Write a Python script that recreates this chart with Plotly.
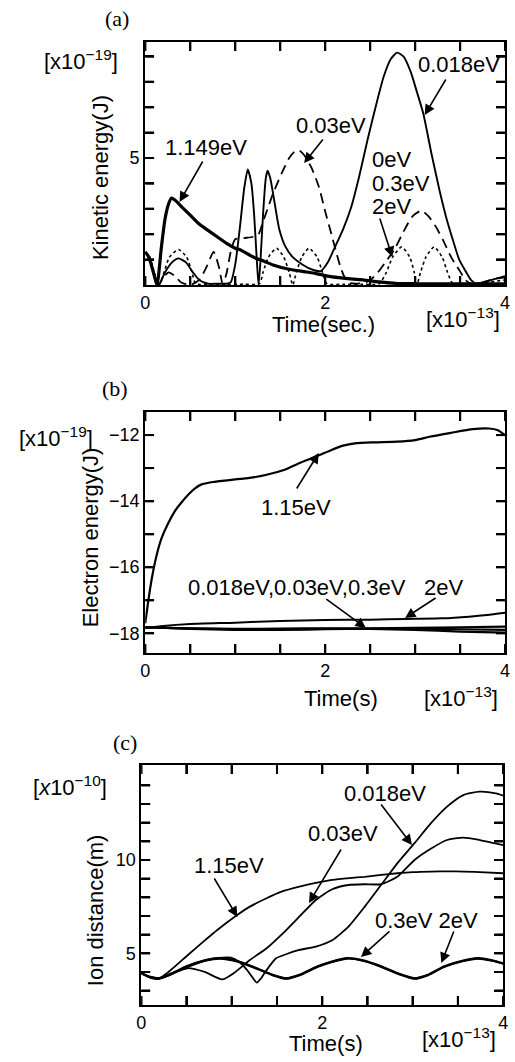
import plotly.graph_objects as go

# ---------------- data ----------------
# Panel (a): kinetic energy [x1e-19 J] vs time [x1e-13 s]
t_a_018 = [0, 0.05, 0.1, 0.15, 0.22, 0.3, 0.37, 0.45, 0.53, 0.6, 0.7, 0.8, 0.9, 0.95, 1.0, 1.05, 1.1, 1.14,
           1.18, 1.21, 1.24, 1.26, 1.28, 1.31, 1.34, 1.36, 1.39, 1.44, 1.49, 1.56, 1.64, 1.75, 1.86, 1.95,
           2.03, 2.11, 2.2, 2.29, 2.38, 2.47, 2.56, 2.65, 2.73, 2.8, 2.87, 2.95, 3.02, 3.09, 3.18, 3.27,
           3.35, 3.42, 3.49, 3.56, 3.62, 3.68, 3.75, 3.85, 3.95, 4.0]
ke_018 = [1.3, 1.0, 0.4, 0.0, 0.5, 0.9, 1.05, 0.9, 0.5, 0.2, 0.05, 0.05, 0.05, 0.1, 0.8, 2.2, 3.8, 4.55,
          4.0, 2.8, 1.0, 0.0, 0.9, 2.8, 4.2, 4.5, 4.2, 3.2, 2.2, 1.5, 1.1, 0.8, 0.6, 0.55,
          0.9, 1.5, 2.2, 3.07, 4.3, 5.7, 7.0, 8.2, 8.9, 9.15, 9.0, 8.4, 7.6, 6.76, 5.2, 3.74,
          2.6, 1.77, 1.0, 0.55, 0.2, 0.05, 0.1, 0.2, 0.3, 0.35]

t_a_03 = [0, 0.05, 0.1, 0.15, 0.2, 0.26, 0.33, 0.4, 0.5, 0.6, 0.68, 0.76, 0.82, 0.86, 0.9, 0.95, 1.0,
          1.1, 1.2, 1.26, 1.31, 1.36, 1.42, 1.48, 1.53, 1.6, 1.66, 1.71, 1.77, 1.85, 1.93, 2.0, 2.07,
          2.13, 2.18, 2.25, 2.35, 2.45, 2.52, 2.58, 2.67, 2.77, 2.87, 2.97, 3.07, 3.15, 3.23, 3.31,
          3.4, 3.49, 3.56, 3.62, 3.7, 3.8, 3.9, 4.0]
ke_03 = [1.3, 1.0, 0.4, 0.0, 0.3, 0.5, 0.35, 0.1, 0.0, 0.2, 0.7, 1.3, 0.7, 0.05, 0.4, 1.3, 1.8,
         1.85, 1.9, 2.0, 2.5, 3.0, 3.6, 4.1, 4.5, 5.0, 5.25, 5.3, 5.1, 4.6, 3.87, 2.9, 2.0,
         1.2, 0.6, 0.1, 0.05, 0.1, 0.25, 0.47, 0.9, 1.4, 2.1, 2.7, 2.93, 2.7, 2.3, 1.77,
         1.1, 0.59, 0.2, 0.05, 0.05, 0.15, 0.25, 0.3]

t_a_1149 = [0, 0.04, 0.09, 0.13, 0.18, 0.22, 0.26, 0.29, 0.33, 0.4, 0.5, 0.6, 0.69, 0.8, 0.9, 1.0,
            1.06, 1.2, 1.33, 1.42, 1.6, 1.78, 1.9, 2.06, 2.2, 2.42, 2.6, 2.8, 3.0, 3.5, 4.0]
ke_1149 = [1.3, 1.1, 0.5, 0.0, 1.5, 2.6, 3.2, 3.42, 3.35, 3.1, 2.75, 2.4, 2.17, 1.9, 1.65, 1.45,
           1.38, 1.1, 0.92, 0.79, 0.62, 0.52, 0.45, 0.33, 0.27, 0.2, 0.12, 0.06, 0.05, 0.05, 0.05]

t_a_0 = [0, 0.05, 0.1, 0.15, 0.2, 0.27, 0.37, 0.46, 0.52, 0.56, 0.7, 0.9, 1.1, 1.27, 1.31, 1.37, 1.46,
         1.54, 1.6, 1.64, 1.68, 1.74, 1.82, 1.91, 1.97, 2.02, 2.2, 2.4, 2.6, 2.68, 2.75, 2.85, 2.94,
         2.99, 3.02, 3.06, 3.12, 3.21, 3.3, 3.36, 3.42, 3.6, 3.8, 4.0]
ke_0 = [1.3, 1.1, 0.5, 0.0, 0.4, 1.1, 1.4, 1.1, 0.5, 0.05, 0.03, 0.03, 0.03, 0.05, 0.5, 1.1, 1.45,
        1.1, 0.5, 0.0, 0.5, 1.1, 1.45, 1.1, 0.5, 0.05, 0.03, 0.03, 0.05, 0.5, 1.1, 1.5, 1.1,
        0.5, 0.0, 0.5, 1.1, 1.5, 1.1, 0.5, 0.05, 0.03, 0.1, 0.2]

# Panel (b): electron energy [x1e-19 J]
t_b_115 = [0, 0.03, 0.076, 0.13, 0.185, 0.25, 0.33, 0.4, 0.48, 0.55, 0.62, 0.75, 0.98, 1.2, 1.35, 1.55,
           1.71, 1.9, 2.07, 2.2, 2.33, 2.55, 2.8, 3.0, 3.16, 3.4, 3.64, 3.82, 3.92, 4.0]
ee_115 = [-17.7, -17.1, -16.3, -15.6, -15.1, -14.7, -14.3, -14.05, -13.8, -13.62, -13.5, -13.42, -13.35,
          -13.28, -13.2, -13.05, -12.85, -12.65, -12.45, -12.32, -12.25, -12.22, -12.2, -12.15, -12.05,
          -11.93, -11.82, -11.8, -11.85, -12.0]
t_b_2 = [0, 0.2, 0.5, 1.0, 1.5, 2.0, 2.5, 2.9, 3.3, 3.6, 3.8, 4.0]
ee_2 = [-17.85, -17.78, -17.72, -17.68, -17.63, -17.6, -17.59, -17.57, -17.55, -17.5, -17.45, -17.38]
t_b_low = [0, 0.5, 1.0, 1.5, 2.0, 2.5, 3.0, 3.5, 4.0]
ee_018 = [-17.82, -17.85, -17.87, -17.86, -17.85, -17.85, -17.84, -17.82, -17.8]
ee_03 = [-17.82, -17.86, -17.88, -17.88, -17.87, -17.87, -17.86, -17.88, -17.9]
ee_3 = [-17.82, -17.87, -17.9, -17.9, -17.88, -17.87, -17.9, -17.95, -17.98]

# Panel (c): ion distance [x1e-10 m]
t_c_115 = [0, 0.1, 0.2, 0.3, 0.515, 0.68, 0.84, 1.06, 1.2, 1.385, 1.55, 1.746, 1.93, 2.11, 2.3, 2.47,
           2.65, 2.83, 3.0, 3.2, 3.4, 3.56, 3.8, 4.0]
d_115 = [3.93, 3.75, 3.68, 4.0, 4.91, 5.6, 6.25, 7.05, 7.5, 7.95, 8.3, 8.57, 8.77, 8.93, 9.03, 9.1,
         9.2, 9.29, 9.35, 9.38, 9.39, 9.38, 9.34, 9.29]
t_c_018 = [0, 0.1, 0.2, 0.3, 0.5, 0.7, 0.85, 0.99, 1.08, 1.17, 1.23, 1.276, 1.33, 1.385, 1.49, 1.6,
           1.746, 1.93, 2.11, 2.29, 2.47, 2.65, 2.83, 3.02, 3.2, 3.38, 3.56, 3.74, 3.92, 4.0]
d_018 = [3.93, 3.72, 3.66, 3.8, 4.25, 4.6, 4.75, 4.77, 4.55, 4.1, 3.7, 3.43, 3.7, 4.1, 4.73, 4.95,
         5.18, 5.36, 5.7, 6.43, 7.5, 8.66, 9.82, 10.9, 11.96, 12.86, 13.48, 13.66, 13.57, 13.45]
t_c_03 = [0, 0.1, 0.2, 0.35, 0.515, 0.7, 0.895, 1.02, 1.2, 1.385, 1.565, 1.746, 1.93, 2.11, 2.29,
          2.47, 2.65, 2.83, 3.02, 3.2, 3.38, 3.56, 3.74, 3.9, 4.0]
d_03 = [3.93, 3.72, 3.66, 3.95, 4.2, 4.0, 3.6, 3.93, 4.64, 5.27, 6.07, 6.96, 7.86, 8.43, 8.66,
        8.7, 8.7, 9.1, 10.0, 10.6, 11.07, 11.2, 11.07, 10.9, 10.8]
t_c_osc = [0, 0.1, 0.2, 0.35, 0.5, 0.7, 0.87, 1.05, 1.25, 1.45, 1.6, 1.75, 1.95, 2.1, 2.28, 2.45,
           2.65, 2.85, 3.02, 3.17, 3.35, 3.55, 3.72, 3.88, 4.0]
d_3 = [3.93, 3.72, 3.66, 3.95, 4.3, 4.62, 4.74, 4.6, 4.25, 3.85, 3.66, 3.85, 4.3, 4.55, 4.74, 4.62,
       4.3, 3.9, 3.66, 3.85, 4.3, 4.6, 4.74, 4.62, 4.46]
d_2 = [3.93, 3.7, 3.64, 3.93, 4.28, 4.6, 4.72, 4.58, 4.23, 3.83, 3.64, 3.83, 4.28, 4.53, 4.72, 4.6,
       4.28, 3.88, 3.64, 3.83, 4.28, 4.58, 4.72, 4.6, 4.44]

# tick positions and labels
x_ticks = [0, 0.5, 1, 1.5, 2, 2.5, 3, 3.5, 4]
x_labels = ["0", "", "", "", "2", "", "", "", "4"]
ya_ticks = [1, 2, 3, 4, 5, 6, 7, 8, 9]
ya_labels = ["", "", "", "", "5", "", "", "", ""]
yb_ticks = [-18, -17, -16, -15, -14, -13, -12]
yb_labels = ["\u221218", "", "\u221216", "", "\u221214", "", "\u221212"]
yc_ticks = [3, 4, 5, 6, 7, 8, 9, 10, 11, 12, 13, 14]
yc_labels = ["", "", "5", "", "", "", "", "10", "", "", "", ""]

W, H = 515, 1062
FONT = "Liberation Sans, Arial, Helvetica, sans-serif"
SERIF = "Liberation Serif, Times New Roman, serif"
TICK_PX = 9

def PX(x):
    return x / W

def PY(y):
    return 1 - y / H

panels = [
    # (xaxis, yaxis, x-domain px, y-domain px (bottom, top), x-range, y-range, y ticks, y labels)
    ("x", "y", (143, 510), (285, 42), [0, 4], [0, 9.57], ya_ticks, ya_labels),
    ("x2", "y2", (143, 510), (653, 412), [0, 4], [-18.6, -11.3], yb_ticks, yb_labels),
    ("x3", "y3", (139, 508), (1005, 765), [0, 4], [2.23, 15.09], yc_ticks, yc_labels),
]

fig = go.Figure()

def line(x, y, xa, ya, width=1.8, dash="solid", shape="spline"):
    ln = dict(color="black", width=width, dash=dash, shape=shape)
    if shape == "spline":
        ln["smoothing"] = 0.6
    fig.add_trace(go.Scatter(x=x, y=y, xaxis=xa, yaxis=ya, mode="lines", line=ln,
                             hoverinfo="skip", showlegend=False))

# inward tick marks on all four sides, in each subplot's own data scale
shapes = []
for xa, ya, (xl, xr), (yb, yt), xr_, yr_, ytk, _ in panels:
    dy = (yr_[1] - yr_[0]) * TICK_PX / (yb - yt)
    dx = (xr_[1] - xr_[0]) * TICK_PX / (xr - xl)
    fy = TICK_PX / (yb - yt)
    fx = TICK_PX / (xr - xl)
    for v in x_ticks:
        line([v, v], [yr_[0], yr_[0] + dy], xa, ya, width=2, shape="linear")
        line([v, v], [yr_[1], yr_[1] - dy], xa, ya, width=2, shape="linear")
        shapes.append(dict(type="line", xref=xa, yref=ya + " domain", x0=v, x1=v, y0=0, y1=fy,
                           line=dict(color="black", width=2), layer="above"))
        shapes.append(dict(type="line", xref=xa, yref=ya + " domain", x0=v, x1=v, y0=1, y1=1 - fy,
                           line=dict(color="black", width=2), layer="above"))
    for v in ytk:
        line([xr_[0], xr_[0] + dx], [v, v], xa, ya, width=2, shape="linear")
        line([xr_[1], xr_[1] - dx], [v, v], xa, ya, width=2, shape="linear")
        shapes.append(dict(type="line", xref=xa + " domain", yref=ya, x0=0, x1=fx, y0=v, y1=v,
                           line=dict(color="black", width=2), layer="above"))
        shapes.append(dict(type="line", xref=xa + " domain", yref=ya, x0=1, x1=1 - fx, y0=v, y1=v,
                           line=dict(color="black", width=2), layer="above"))

# (a)
line(t_a_0, ke_0, "x", "y", width=1.6, dash="dot")
line(t_a_03, ke_03, "x", "y", width=1.8, dash="10px,6px")
line(t_a_018, ke_018, "x", "y", width=1.9)
line(t_a_1149, ke_1149, "x", "y", width=3.2)
# (b)
line(t_b_low, ee_3, "x2", "y2", width=2.2)
line(t_b_low, ee_03, "x2", "y2", width=2.2)
line(t_b_low, ee_018, "x2", "y2", width=2.2)
line(t_b_2, ee_2, "x2", "y2", width=2.0)
line(t_b_115, ee_115, "x2", "y2", width=2.2)
# (c)
line(t_c_osc, d_3, "x3", "y3", width=2.2)
line(t_c_osc, d_2, "x3", "y3", width=2.2)
line(t_c_03, d_03, "x3", "y3", width=1.8)
line(t_c_018, d_018, "x3", "y3", width=1.8)
line(t_c_115, d_115, "x3", "y3", width=1.8)

def axis(domain, rng, tickvals, ticktext, anchor):
    return dict(domain=domain, range=rng, anchor=anchor,
                tickmode="array", tickvals=tickvals, ticktext=ticktext,
                ticks="inside", ticklen=TICK_PX, tickwidth=2, tickcolor="black",
                showline=True, linewidth=2, linecolor="black", mirror="ticks",
                showgrid=False, zeroline=False,
                tickfont=dict(family=FONT, size=18, color="black"))

layout_axes = {}
for i, (xa, ya, (xl, xr), (yb, yt), xr_, yr_, ytk, ylab) in enumerate(panels):
    sx = "" if i == 0 else str(i + 1)
    layout_axes["xaxis" + sx] = axis([PX(xl), PX(xr)], xr_, x_ticks, x_labels, ya)
    layout_axes["yaxis" + sx] = axis([PY(yb), PY(yt)], yr_, ytk, ylab, xa)

fig.update_layout(width=W, height=H, margin=dict(l=0, r=0, t=0, b=0),
                  paper_bgcolor="white", plot_bgcolor="white", showlegend=False,
                  shapes=shapes, **layout_axes)

anns = []

def text(x, y, s, size=22, family=FONT, angle=0, xanchor="center"):
    anns.append(dict(x=PX(x), y=PY(y), xref="paper", yref="paper", text=s, showarrow=False,
                     font=dict(family=family, size=size, color="black"), textangle=angle,
                     xanchor=xanchor, yanchor="middle"))

def arrow(x0, y0, x1, y1):
    anns.append(dict(x=PX(x1), y=PY(y1), xref="paper", yref="paper", text="", showarrow=True,
                     ax=x0 - x1, ay=y0 - y1, axref="pixel", ayref="pixel",
                     arrowhead=2, arrowsize=1.3, arrowwidth=1.6, arrowcolor="black"))

# panel labels
text(114, 19, "(a)", size=22, family=SERIF)
text(112, 388, "(b)", size=22, family=SERIF)
text(122, 742, "(c)", size=22, family=SERIF)

# axis titles
text(98, 178, "Kinetic energy(J)", angle=-90)
text(325, 324, "Time(sec.)")
text(87, 537, "Electron energy(J)", angle=-90)
text(343, 698, "Time(s)")
text(92, 910, "Ion distance(m)", angle=-90)
text(327, 1043, "Time(s)")

# exponent labels
text(78, 60, "[x10<sup>\u221219</sup>]")
text(467, 318, "[x10<sup>\u221213</sup>]")
text(52, 437, "[x10<sup>\u221219</sup>]")
text(465, 697, "[x10<sup>\u221213</sup>]")
text(66, 786, "[<i>x</i>10<sup>\u221210</sup>]")
text(463, 1038, "[x10<sup>\u221213</sup>]")

# panel (a) annotations
text(205, 147, "1.149eV")
arrow(202, 160, 178, 202)
text(332, 125, "0.03eV")
arrow(325, 138, 305, 163)
text(463, 65, "0.018eV")
arrow(450, 78, 428, 115)
text(372, 159, "0eV", xanchor="left")
text(372, 183, "0.3eV", xanchor="left")
text(372, 206, "2eV", xanchor="left")
arrow(382, 217, 395, 257)

# panel (b) annotations
text(297, 507, "1.15eV")
arrow(297, 490, 320, 453)
text(298, 587, "0.018eV,0.03eV,0.3eV")
arrow(327, 598, 368, 628)
text(447, 587, "2eV")
arrow(440, 597, 408, 618)

# panel (c) annotations
text(388, 793, "0.018eV")
arrow(383, 803, 415, 845)
text(345, 833, "0.03eV")
arrow(343, 848, 310, 903)
text(228, 865, "1.15eV")
arrow(213, 877, 237, 917)
text(430, 920, "0.3eV 2eV")
arrow(393, 930, 363, 957)
arrow(458, 930, 445, 963)

fig.update_layout(annotations=anns)
fig.write_html("out.html")
